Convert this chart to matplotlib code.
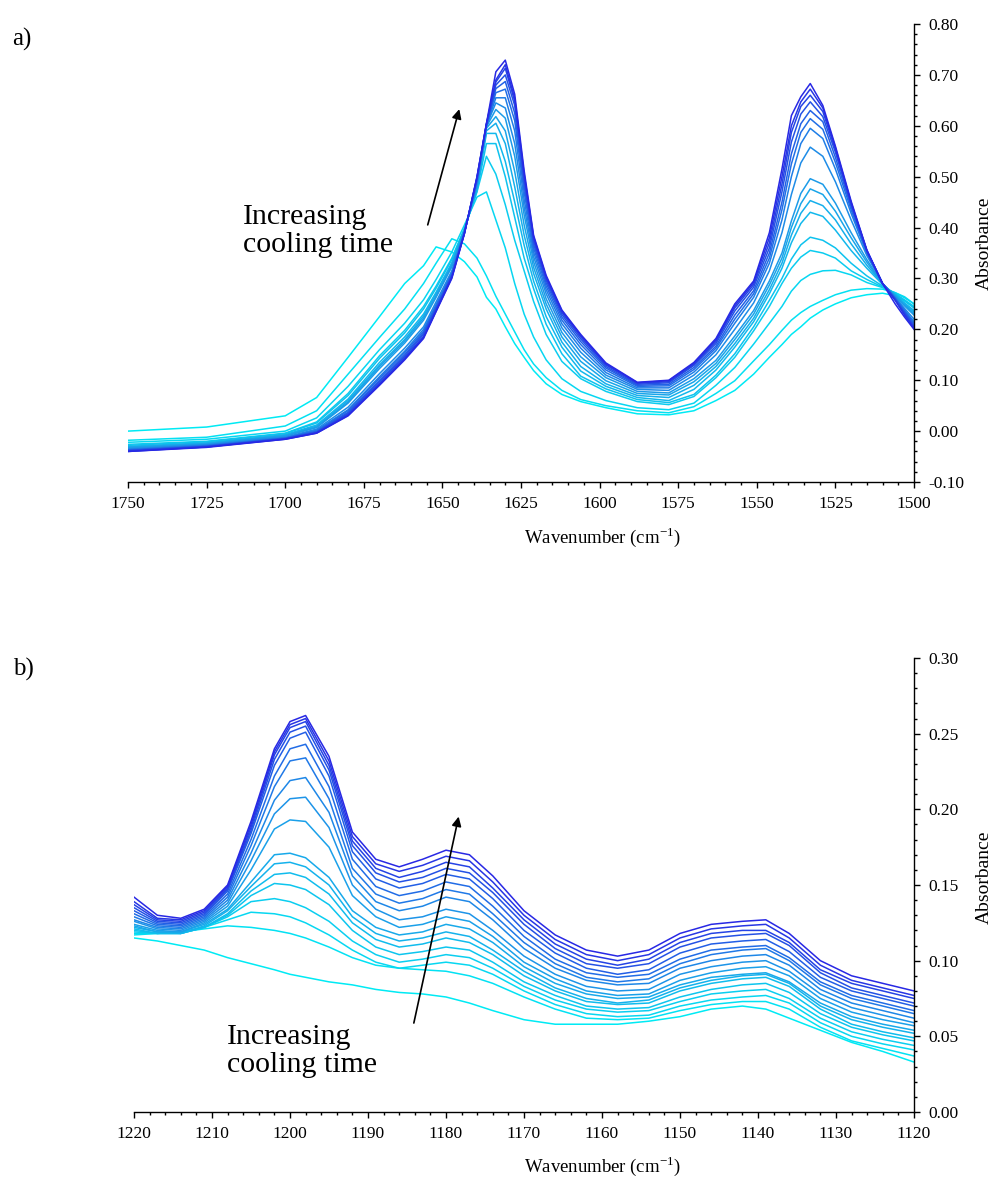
import numpy as np
import matplotlib
matplotlib.use('Agg')
import matplotlib.pyplot as plt
from matplotlib.ticker import MultipleLocator, FormatStrFormatter
from matplotlib.colors import LinearSegmentedColormap

plt.rcParams['font.family'] = ['Liberation Serif', 'DejaVu Serif']
plt.rcParams['mathtext.fontset'] = 'custom'
plt.rcParams['mathtext.rm'] = 'Liberation Serif'

#%% panel a) 1750-1500 cm-1, spectra (earliest -> latest)
wn_a = [1750, 1725, 1700, 1690, 1680, 1670, 1662, 1656, 1652, 1647, 1643, 1639, 1636, 1633,
        1630, 1627, 1624, 1621, 1617, 1612, 1606, 1598, 1588, 1578, 1570, 1563, 1557, 1551,
        1546, 1542, 1539, 1536, 1533, 1529, 1525, 1520, 1515, 1510, 1506, 1503, 1500]

a_t00 = [0.000, 0.008, 0.030, 0.066, 0.145, 0.225, 0.290, 0.325, 0.362, 0.352, 0.333, 0.303, 0.263, 0.240,
         0.205, 0.172, 0.145, 0.119, 0.093, 0.072, 0.058, 0.046, 0.034, 0.032, 0.040, 0.060, 0.080, 0.112,
         0.145, 0.170, 0.190, 0.205, 0.222, 0.238, 0.250, 0.262, 0.268, 0.271, 0.266, 0.256, 0.243]
a_t01 = [-0.018, -0.012, 0.010, 0.040, 0.112, 0.184, 0.240, 0.290, 0.330, 0.378, 0.368, 0.340, 0.305, 0.265,
         0.230, 0.195, 0.160, 0.132, 0.105, 0.080, 0.062, 0.050, 0.040, 0.036, 0.048, 0.074, 0.099, 0.138,
         0.170, 0.198, 0.218, 0.233, 0.245, 0.257, 0.268, 0.277, 0.280, 0.279, 0.272, 0.264, 0.250]
a_t02 = [-0.022, -0.016, 0.000, 0.026, 0.088, 0.160, 0.212, 0.258, 0.298, 0.352, 0.405, 0.460, 0.470, 0.415,
         0.360, 0.290, 0.230, 0.185, 0.140, 0.103, 0.078, 0.060, 0.046, 0.042, 0.055, 0.090, 0.125, 0.171,
         0.212, 0.245, 0.275, 0.296, 0.308, 0.315, 0.316, 0.307, 0.292, 0.282, 0.272, 0.262, 0.250]
a_t03 = [-0.026, -0.020, -0.004, 0.018, 0.074, 0.148, 0.198, 0.245, 0.285, 0.340, 0.398, 0.470, 0.540, 0.505,
         0.445, 0.375, 0.315, 0.255, 0.190, 0.137, 0.103, 0.078, 0.058, 0.052, 0.068, 0.105, 0.145, 0.197,
         0.245, 0.290, 0.320, 0.342, 0.355, 0.350, 0.340, 0.315, 0.298, 0.283, 0.270, 0.258, 0.245]
a_t04 = [-0.028, -0.021, -0.005, 0.016, 0.070, 0.143, 0.193, 0.240, 0.281, 0.337, 0.397, 0.472, 0.565, 0.565,
         0.500, 0.420, 0.340, 0.280, 0.210, 0.152, 0.108, 0.083, 0.062, 0.056, 0.072, 0.110, 0.152, 0.205,
         0.257, 0.300, 0.338, 0.366, 0.381, 0.375, 0.360, 0.330, 0.305, 0.285, 0.270, 0.256, 0.242]
a_t05 = [-0.030, -0.023, -0.007, 0.012, 0.063, 0.135, 0.185, 0.230, 0.273, 0.331, 0.396, 0.476, 0.585, 0.585,
         0.530, 0.450, 0.365, 0.295, 0.225, 0.165, 0.118, 0.088, 0.066, 0.060, 0.082, 0.120, 0.165, 0.215,
         0.270, 0.320, 0.370, 0.408, 0.430, 0.422, 0.395, 0.355, 0.320, 0.288, 0.268, 0.252, 0.237]
a_t06 = [-0.031, -0.024, -0.008, 0.010, 0.060, 0.130, 0.180, 0.226, 0.270, 0.328, 0.395, 0.478, 0.590, 0.605,
         0.565, 0.480, 0.385, 0.310, 0.240, 0.175, 0.127, 0.093, 0.070, 0.066, 0.090, 0.127, 0.172, 0.222,
         0.278, 0.330, 0.385, 0.428, 0.453, 0.443, 0.415, 0.368, 0.326, 0.289, 0.267, 0.250, 0.234]
a_t07 = [-0.032, -0.025, -0.009, 0.008, 0.057, 0.127, 0.177, 0.222, 0.266, 0.325, 0.394, 0.480, 0.595, 0.618,
         0.590, 0.510, 0.405, 0.322, 0.250, 0.185, 0.137, 0.099, 0.074, 0.071, 0.097, 0.133, 0.180, 0.230,
         0.287, 0.340, 0.400, 0.447, 0.476, 0.465, 0.432, 0.380, 0.332, 0.289, 0.266, 0.248, 0.231]
a_t08 = [-0.033, -0.026, -0.010, 0.007, 0.055, 0.123, 0.173, 0.218, 0.263, 0.323, 0.393, 0.482, 0.598, 0.632,
         0.615, 0.540, 0.425, 0.333, 0.260, 0.194, 0.146, 0.105, 0.078, 0.075, 0.103, 0.139, 0.187, 0.237,
         0.295, 0.350, 0.413, 0.467, 0.496, 0.485, 0.448, 0.390, 0.337, 0.289, 0.265, 0.246, 0.228]
a_t09 = [-0.035, -0.027, -0.012, 0.004, 0.047, 0.113, 0.163, 0.205, 0.254, 0.315, 0.392, 0.488, 0.600, 0.645,
         0.635, 0.565, 0.440, 0.343, 0.270, 0.203, 0.155, 0.110, 0.082, 0.080, 0.110, 0.150, 0.200, 0.252,
         0.315, 0.390, 0.465, 0.527, 0.558, 0.540, 0.490, 0.415, 0.345, 0.290, 0.263, 0.241, 0.220]
a_t10 = [-0.036, -0.028, -0.013, 0.002, 0.042, 0.107, 0.157, 0.200, 0.249, 0.311, 0.391, 0.490, 0.600, 0.655,
         0.655, 0.590, 0.455, 0.352, 0.278, 0.211, 0.163, 0.115, 0.085, 0.085, 0.116, 0.158, 0.212, 0.263,
         0.330, 0.415, 0.500, 0.565, 0.595, 0.575, 0.515, 0.428, 0.349, 0.290, 0.262, 0.238, 0.215]
a_t11 = [-0.037, -0.029, -0.014, 0.000, 0.040, 0.104, 0.154, 0.196, 0.246, 0.309, 0.390, 0.492, 0.601, 0.665,
         0.672, 0.610, 0.470, 0.360, 0.285, 0.218, 0.170, 0.120, 0.088, 0.089, 0.121, 0.163, 0.220, 0.270,
         0.340, 0.435, 0.525, 0.587, 0.614, 0.593, 0.528, 0.435, 0.351, 0.290, 0.261, 0.236, 0.212]
a_t12 = [-0.038, -0.030, -0.014, -0.001, 0.037, 0.100, 0.150, 0.193, 0.243, 0.307, 0.390, 0.494, 0.602, 0.673,
         0.687, 0.625, 0.482, 0.367, 0.291, 0.224, 0.176, 0.124, 0.090, 0.092, 0.125, 0.167, 0.228, 0.276,
         0.350, 0.450, 0.545, 0.604, 0.630, 0.608, 0.538, 0.441, 0.353, 0.290, 0.260, 0.234, 0.209]
a_t13 = [-0.038, -0.030, -0.015, -0.002, 0.035, 0.097, 0.147, 0.190, 0.240, 0.305, 0.389, 0.496, 0.602, 0.680,
         0.700, 0.640, 0.492, 0.373, 0.296, 0.229, 0.181, 0.127, 0.092, 0.095, 0.129, 0.172, 0.236, 0.283,
         0.360, 0.470, 0.568, 0.623, 0.647, 0.618, 0.548, 0.445, 0.354, 0.290, 0.259, 0.232, 0.206]
a_t14 = [-0.039, -0.031, -0.015, -0.003, 0.033, 0.094, 0.144, 0.186, 0.238, 0.303, 0.389, 0.498, 0.603, 0.686,
         0.713, 0.648, 0.500, 0.378, 0.300, 0.233, 0.185, 0.130, 0.094, 0.097, 0.131, 0.176, 0.242, 0.288,
         0.370, 0.485, 0.587, 0.638, 0.660, 0.628, 0.553, 0.448, 0.355, 0.290, 0.258, 0.230, 0.204]
a_t15 = [-0.040, -0.031, -0.016, -0.004, 0.031, 0.092, 0.142, 0.184, 0.236, 0.302, 0.388, 0.499, 0.604, 0.690,
         0.720, 0.654, 0.505, 0.382, 0.303, 0.236, 0.188, 0.132, 0.095, 0.099, 0.133, 0.179, 0.246, 0.292,
         0.380, 0.500, 0.600, 0.647, 0.672, 0.635, 0.557, 0.449, 0.355, 0.290, 0.257, 0.228, 0.202]
a_t16 = [-0.040, -0.032, -0.016, -0.004, 0.030, 0.090, 0.140, 0.182, 0.235, 0.300, 0.388, 0.500, 0.604, 0.706,
         0.729, 0.662, 0.512, 0.385, 0.306, 0.238, 0.190, 0.134, 0.096, 0.100, 0.135, 0.182, 0.250, 0.295,
         0.390, 0.515, 0.620, 0.657, 0.683, 0.640, 0.560, 0.452, 0.356, 0.290, 0.250, 0.224, 0.200]

spectra_a = [a_t00, a_t01, a_t02, a_t03, a_t04, a_t05, a_t06, a_t07, a_t08,
             a_t09, a_t10, a_t11, a_t12, a_t13, a_t14, a_t15, a_t16]

#%% panel b) 1220-1120 cm-1
wn_b = [1220, 1217, 1214, 1211, 1208, 1205, 1202, 1200, 1198, 1195, 1192, 1189, 1186, 1183, 1180, 1177,
        1174, 1170, 1166, 1162, 1158, 1154, 1150, 1146, 1142, 1139, 1136, 1132, 1128, 1124, 1120]

b_t00 = [0.115, 0.113, 0.110, 0.107, 0.102, 0.098, 0.094, 0.091, 0.089, 0.086, 0.084, 0.081, 0.079, 0.078, 0.076, 0.072,
         0.067, 0.061, 0.058, 0.058, 0.058, 0.060, 0.063, 0.068, 0.070, 0.068, 0.062, 0.054, 0.046, 0.040, 0.033]
b_t01 = [0.117, 0.118, 0.119, 0.121, 0.123, 0.122, 0.120, 0.118, 0.115, 0.109, 0.102, 0.097, 0.095, 0.094, 0.093, 0.090,
         0.085, 0.076, 0.068, 0.062, 0.061, 0.062, 0.067, 0.071, 0.073, 0.073, 0.068, 0.056, 0.047, 0.042, 0.037]
b_t02 = [0.118, 0.118, 0.119, 0.122, 0.127, 0.132, 0.131, 0.129, 0.125, 0.117, 0.107, 0.099, 0.095, 0.097, 0.099, 0.097,
         0.091, 0.080, 0.071, 0.065, 0.063, 0.064, 0.070, 0.074, 0.076, 0.077, 0.072, 0.059, 0.050, 0.045, 0.041]
b_t03 = [0.119, 0.118, 0.118, 0.122, 0.129, 0.139, 0.141, 0.139, 0.135, 0.126, 0.113, 0.104, 0.099, 0.101, 0.104, 0.102,
         0.095, 0.083, 0.074, 0.068, 0.066, 0.067, 0.073, 0.078, 0.080, 0.081, 0.075, 0.062, 0.053, 0.048, 0.044]
b_t04 = [0.120, 0.118, 0.118, 0.122, 0.130, 0.143, 0.151, 0.150, 0.147, 0.137, 0.120, 0.109, 0.104, 0.106, 0.109, 0.107,
         0.099, 0.086, 0.077, 0.070, 0.068, 0.069, 0.076, 0.081, 0.084, 0.085, 0.079, 0.065, 0.056, 0.051, 0.047]
b_t05 = [0.121, 0.118, 0.118, 0.122, 0.131, 0.146, 0.157, 0.158, 0.155, 0.144, 0.125, 0.114, 0.109, 0.111, 0.115, 0.112,
         0.104, 0.090, 0.080, 0.073, 0.071, 0.072, 0.080, 0.085, 0.088, 0.089, 0.083, 0.068, 0.058, 0.053, 0.049]
b_t06 = [0.122, 0.119, 0.118, 0.123, 0.133, 0.149, 0.164, 0.165, 0.162, 0.150, 0.129, 0.118, 0.113, 0.115, 0.119, 0.116,
         0.107, 0.093, 0.082, 0.075, 0.072, 0.074, 0.082, 0.087, 0.090, 0.091, 0.085, 0.070, 0.061, 0.056, 0.052]
b_t07 = [0.123, 0.119, 0.119, 0.124, 0.134, 0.152, 0.170, 0.171, 0.168, 0.155, 0.133, 0.122, 0.117, 0.119, 0.124, 0.121,
         0.112, 0.096, 0.085, 0.078, 0.075, 0.076, 0.084, 0.089, 0.091, 0.092, 0.086, 0.072, 0.063, 0.058, 0.054]
b_t08 = [0.124, 0.120, 0.119, 0.125, 0.136, 0.160, 0.187, 0.193, 0.192, 0.175, 0.143, 0.129, 0.122, 0.124, 0.129, 0.126,
         0.116, 0.099, 0.088, 0.080, 0.077, 0.078, 0.087, 0.092, 0.095, 0.096, 0.090, 0.075, 0.066, 0.061, 0.057]
b_t09 = [0.126, 0.121, 0.120, 0.126, 0.138, 0.166, 0.197, 0.207, 0.208, 0.188, 0.150, 0.134, 0.127, 0.129, 0.134, 0.131,
         0.120, 0.103, 0.091, 0.083, 0.080, 0.081, 0.091, 0.096, 0.099, 0.100, 0.093, 0.078, 0.069, 0.064, 0.059]
b_t10 = [0.127, 0.122, 0.121, 0.127, 0.140, 0.171, 0.206, 0.219, 0.221, 0.198, 0.156, 0.139, 0.133, 0.136, 0.142, 0.139,
         0.127, 0.108, 0.095, 0.087, 0.084, 0.085, 0.095, 0.100, 0.103, 0.104, 0.097, 0.081, 0.072, 0.067, 0.062]
b_t11 = [0.129, 0.123, 0.122, 0.128, 0.142, 0.176, 0.215, 0.232, 0.234, 0.207, 0.161, 0.144, 0.138, 0.141, 0.147, 0.144,
         0.131, 0.112, 0.098, 0.089, 0.086, 0.088, 0.098, 0.104, 0.107, 0.108, 0.100, 0.084, 0.075, 0.070, 0.065]
b_t12 = [0.131, 0.124, 0.123, 0.129, 0.144, 0.180, 0.222, 0.240, 0.243, 0.215, 0.167, 0.149, 0.143, 0.146, 0.152, 0.149,
         0.136, 0.116, 0.101, 0.092, 0.089, 0.091, 0.101, 0.107, 0.109, 0.110, 0.102, 0.086, 0.077, 0.072, 0.067]
b_t13 = [0.133, 0.125, 0.124, 0.130, 0.146, 0.184, 0.229, 0.247, 0.251, 0.222, 0.172, 0.154, 0.148, 0.151, 0.157, 0.154,
         0.141, 0.120, 0.105, 0.095, 0.091, 0.094, 0.105, 0.111, 0.113, 0.114, 0.106, 0.089, 0.080, 0.075, 0.070]
b_t14 = [0.135, 0.126, 0.125, 0.131, 0.147, 0.186, 0.233, 0.251, 0.255, 0.226, 0.176, 0.158, 0.152, 0.155, 0.161, 0.158,
         0.145, 0.124, 0.108, 0.098, 0.095, 0.098, 0.109, 0.115, 0.117, 0.118, 0.110, 0.092, 0.082, 0.077, 0.072]
b_t15 = [0.137, 0.127, 0.126, 0.132, 0.148, 0.188, 0.236, 0.254, 0.258, 0.229, 0.179, 0.161, 0.155, 0.159, 0.165, 0.162,
         0.148, 0.127, 0.111, 0.101, 0.097, 0.101, 0.112, 0.118, 0.120, 0.120, 0.112, 0.094, 0.085, 0.080, 0.075]
b_t16 = [0.139, 0.128, 0.127, 0.133, 0.149, 0.190, 0.238, 0.256, 0.260, 0.232, 0.182, 0.164, 0.159, 0.163, 0.169, 0.166,
         0.152, 0.130, 0.114, 0.104, 0.100, 0.104, 0.115, 0.121, 0.123, 0.124, 0.115, 0.097, 0.087, 0.082, 0.077]
b_t17 = [0.142, 0.130, 0.128, 0.134, 0.150, 0.192, 0.240, 0.258, 0.262, 0.235, 0.185, 0.167, 0.162, 0.167, 0.173, 0.170,
         0.156, 0.133, 0.117, 0.107, 0.103, 0.107, 0.118, 0.124, 0.126, 0.127, 0.118, 0.100, 0.090, 0.085, 0.080]

spectra_b = [b_t00, b_t01, b_t02, b_t03, b_t04, b_t05, b_t06, b_t07, b_t08,
             b_t09, b_t10, b_t11, b_t12, b_t13, b_t14, b_t15, b_t16, b_t17]

#%% plotting
cool = LinearSegmentedColormap.from_list('cyan_blue', ['#00eaf4', '#1c9be8', '#2828e4'])

fig = plt.figure(figsize=(10.05, 11.8), dpi=100)
W, H = 1005, 1180
ax_a = fig.add_axes([128/W, 1 - 482/H, (914 - 128)/W, (482 - 24)/H])
ax_b = fig.add_axes([134/W, 1 - 1112/H, (914 - 134)/W, (1112 - 658)/H])


def style_axis(ax):
    ax.spines['left'].set_visible(False)
    ax.spines['top'].set_visible(False)
    ax.spines['right'].set_linewidth(1.0)
    ax.spines['bottom'].set_linewidth(1.0)
    ax.yaxis.tick_right()
    ax.tick_params(which='major', direction='out', length=4, width=1.0, labelsize=12.5, pad=6)
    ax.tick_params(which='minor', direction='out', length=2.5, width=1.0)
    ax.set_facecolor('none')


for i, y in enumerate(spectra_a):
    ax_a.plot(wn_a, y, color=cool(i/(len(spectra_a) - 1)), lw=1.1)
ax_a.set_xlim(1750, 1500)
ax_a.set_ylim(-0.10, 0.80)
ax_a.xaxis.set_major_locator(MultipleLocator(25))
ax_a.xaxis.set_minor_locator(MultipleLocator(5))
ax_a.yaxis.set_major_locator(MultipleLocator(0.1))
ax_a.yaxis.set_minor_locator(MultipleLocator(0.02))
ax_a.yaxis.set_major_formatter(FormatStrFormatter('%.2f'))
style_axis(ax_a)
ax_a.annotate('', xy=(1644.4, 0.638), xytext=(1654.9, 0.400),
              arrowprops=dict(arrowstyle='-|>', color='black', lw=1.2, mutation_scale=14))
ax_a.text(1713.4, 0.446, 'Increasing\ncooling time', fontsize=21.5, ha='left', va='top', linespacing=1.1)

for i, y in enumerate(spectra_b):
    ax_b.plot(wn_b, y, color=cool(i/(len(spectra_b) - 1)), lw=1.1)
ax_b.set_xlim(1220, 1120)
ax_b.set_ylim(0, 0.30)
ax_b.xaxis.set_major_locator(MultipleLocator(10))
ax_b.xaxis.set_minor_locator(MultipleLocator(2))
ax_b.yaxis.set_major_locator(MultipleLocator(0.05))
ax_b.yaxis.set_minor_locator(MultipleLocator(0.01))
ax_b.yaxis.set_major_formatter(FormatStrFormatter('%.2f'))
style_axis(ax_b)
ax_b.annotate('', xy=(1178.3, 0.197), xytext=(1184.2, 0.057),
              arrowprops=dict(arrowstyle='-|>', color='black', lw=1.2, mutation_scale=14))
ax_b.text(1208.1, 0.058, 'Increasing\ncooling time', fontsize=21.5, ha='left', va='top', linespacing=1.1)

# labels placed in figure coords like the original layout
xlab = 'Wavenumber (cm$^{\\mathregular{-1}}$)'
fig.text(602/W, 1 - 537/H, xlab, fontsize=13.5, ha='center', va='center')
fig.text(602/W, 1 - 1166/H, xlab, fontsize=13.5, ha='center', va='center')
fig.text(984/W, 1 - 243/H, 'Absorbance', fontsize=14, rotation=90, ha='center', va='center')
fig.text(984/W, 1 - 877/H, 'Absorbance', fontsize=14, rotation=90, ha='center', va='center')
fig.text(12/W, 1 - 39/H, 'a)', fontsize=18, ha='left', va='center')
fig.text(13/W, 1 - 669/H, 'b)', fontsize=18, ha='left', va='center')

fig.savefig('out.png', dpi=100)
